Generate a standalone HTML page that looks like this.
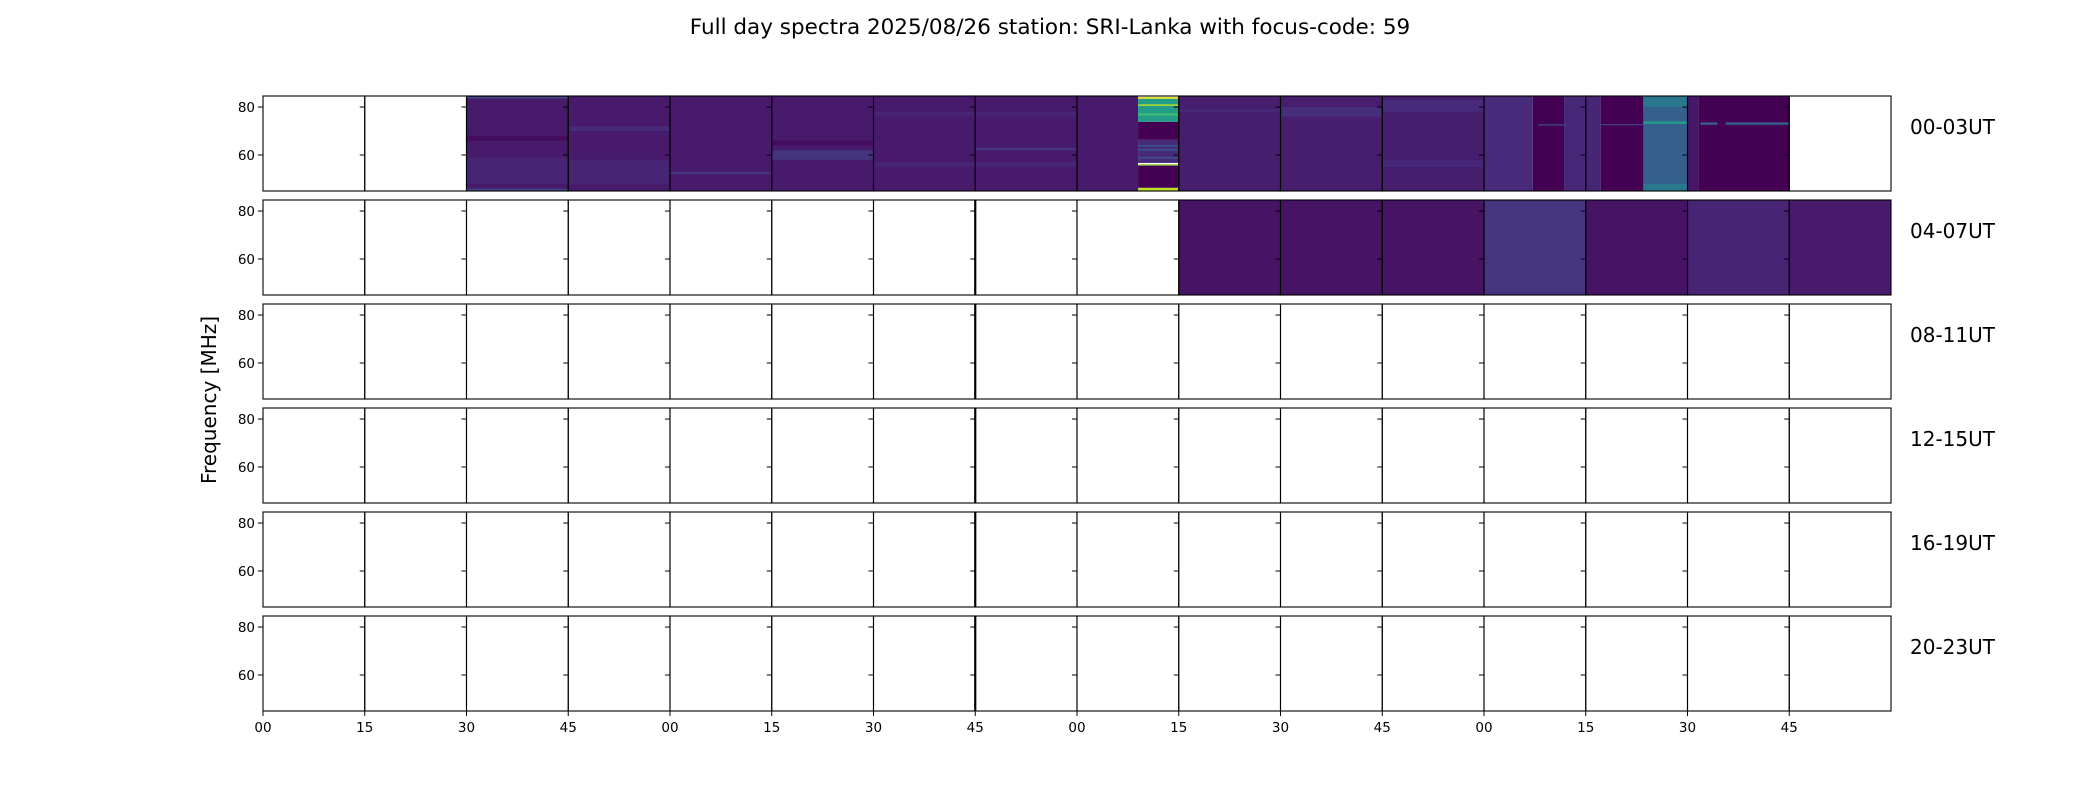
<!DOCTYPE html>
<html><head><meta charset="utf-8"><style>
html,body{margin:0;padding:0;background:#fff;}
svg{display:block;font-family:"DejaVu Sans","Liberation Sans",sans-serif;}
</style></head><body>
<svg id="chart" width="2100" height="800" viewBox="0 0 2100 800" xmlns="http://www.w3.org/2000/svg">
<text x="1050" y="34" text-anchor="middle" font-size="21.5">Full day spectra 2025/08/26 station: SRI-Lanka with focus-code: 59</text>
<text transform="translate(216,400) rotate(-90)" text-anchor="middle" font-size="20">Frequency [MHz]</text>
<g id="marks"></g>
<g id="axes"></g>
</svg>
<script>
// ---- data ----
const rowLabels = ["00-03UT","04-07UT","08-11UT","12-15UT","16-19UT","20-23UT"];
const xTickLabels = ["00","15","30","45","00","15","30","45","00","15","30","45","00","15","30","45"];
const yTicks = [80, 60];
const freqRange = [45, 84.6];
// patches: [startMinuteOfDay, endMinuteOfDay, freqLo, freqHi, viridisLevel]
const basePatches = [
  [30,129,45,84.6,0.07],[135,180,45,84.6,0.08],
  [180,187.2,45,84.6,0.12],[187.2,191.8,45,84.6,0.0],[191.8,195,45,84.6,0.11],
  [195,197.2,45,84.6,0.1],[197.2,203.5,45,84.6,0.0],[203.5,210,45,84.6,0.3],
  [210,211.6,45,84.6,0.06],[211.6,225,45,84.6,0.0],
  [375,420,45,84.6,0.05],[420,435,45,84.6,0.15],[435,450,45,84.6,0.05],
  [450,465,45,84.6,0.1],[465,480,45,84.6,0.07]
];
const brightPatches = [
  [129,135,83.4,84.2,0.95],[129,135,73.8,83.4,0.55],[129,135,80.5,81.1,0.9],
  [129,135,76.5,77.3,0.7],[129,135,66.3,73.8,0.0],[129,135,56.7,66.3,0.12],
  [129,135,63.6,64.1,0.3],[129,135,61.9,62.4,0.3],[129,135,58.6,59.1,0.3],
  [129,135,55.6,56.2,0.85],[129,135,46.3,55.6,0.0],[129,135,45,46.3,0.9],
  [30,45,83.6,84.2,0.25],[30,45,45,46,0.2],[30,45,48,59,0.1],[30,45,66,68,0.03],
  [45,60,48,58,0.1],[45,60,70,72,0.12],
  [75,90,58,62,0.15],[75,90,64,66,0.03],[60,75,52,53,0.15],
  [90,120,76,78,0.1],[90,120,55,57,0.1],[105,120,62,63,0.15],
  [135,150,78,79,0.12],[150,165,76,80,0.13],[165,180,78,83,0.12],[165,180,55,58,0.11],
  [203.5,210,80,84.6,0.4],[203.5,210,45,48,0.4],[203.5,210,73,74,0.55],
  [188,192,72.3,72.8,0.25],[197,203.5,72.4,72.9,0.2],
  [211.9,214.4,72.6,73.6,0.3],[215.6,225,72.6,73.6,0.3]
];
// ---- layout ----
const X0=263, X1=1891, rowTop=[96,200,304,408,512,616], rowH=95;
const nCols=16, colW=(X1-X0)/nCols;
function xOf(minuteInRow){return X0+minuteInRow/240*(X1-X0);}
function yOf(f,r){return rowTop[r]+(freqRange[1]-f)/(freqRange[1]-freqRange[0])*rowH;}
const vir=["#440154","#482475","#414487","#355f8d","#2a788e","#21918c","#22a884","#44bf70","#7ad151","#bddf26","#fde725"];
function hex(h){return [1,3,5].map(i=>parseInt(h.substr(i,2),16));}
function viridis(t){t=Math.max(0,Math.min(1,t))*10;const i=Math.min(9,Math.floor(t)),f=t-i;const a=hex(vir[i]),b=hex(vir[i+1]);return "rgb("+a.map((v,k)=>Math.round(v+(b[k]-v)*f)).join(",")+")";}
const NS="http://www.w3.org/2000/svg";
const marks=document.getElementById('marks'), axes=document.getElementById('axes');
function drawPatch(p){
  const r=Math.floor(p[0]/240), m0=p[0]-r*240, m1=p[1]-r*240;
  const el=document.createElementNS(NS,'rect');
  const x=xOf(m0), y=yOf(p[3],r);
  el.setAttribute('x',x);el.setAttribute('y',y);
  el.setAttribute('width',xOf(m1)-x);el.setAttribute('height',yOf(p[2],r)-y);
  el.setAttribute('fill',viridis(p[4]));
  
  
  marks.appendChild(el);
}
basePatches.forEach(drawPatch);
brightPatches.forEach(drawPatch);
for(let r=0;r<6;r++){
  for(let c=0;c<nCols;c++){
    const x=X0+c*colW;
    const fr=document.createElementNS(NS,'rect');
    fr.setAttribute('x',x);fr.setAttribute('y',rowTop[r]);fr.setAttribute('width',colW);fr.setAttribute('height',rowH);
    fr.setAttribute('fill','none');fr.setAttribute('stroke','#000');fr.setAttribute('stroke-width','1.1');
    
    
    axes.appendChild(fr);
    yTicks.forEach(v=>{
      const t=document.createElementNS(NS,'line');
      const y=yOf(v,r);
      t.setAttribute('x1',x-5);t.setAttribute('x2',x);t.setAttribute('y1',y);t.setAttribute('y2',y);
      t.setAttribute('stroke','#000');t.setAttribute('stroke-width','1');
      
      
      axes.appendChild(t);
      if(c===0){
        const lb=document.createElementNS(NS,'text');
        lb.setAttribute('x',x-8);lb.setAttribute('y',y+5);lb.setAttribute('text-anchor','end');lb.setAttribute('font-size','13.5');
        lb.textContent=v;
        
        
        axes.appendChild(lb);
      }
    });
  }
  if(r>0){
    const tl=document.createElementNS(NS,'line');
    const xx=X0+7*colW;
    tl.setAttribute('x1',xx);tl.setAttribute('x2',xx);tl.setAttribute('y1',rowTop[r]);tl.setAttribute('y2',rowTop[r]+rowH);
    tl.setAttribute('stroke','#000');tl.setAttribute('stroke-width','2.2');
    
    
    axes.appendChild(tl);
  }
  const rl=document.createElementNS(NS,'text');
  rl.setAttribute('x',1910);rl.setAttribute('y',rowTop[r]+38);rl.setAttribute('font-size','20');
  rl.textContent=rowLabels[r];
  
  
  axes.appendChild(rl);
}
xTickLabels.forEach((s,i)=>{
  const x=X0+i*colW;
  const t=document.createElementNS(NS,'line');
  t.setAttribute('x1',x);t.setAttribute('x2',x);t.setAttribute('y1',711);t.setAttribute('y2',716);
  t.setAttribute('stroke','#000');
  
  
  axes.appendChild(t);
  const lb=document.createElementNS(NS,'text');
  lb.setAttribute('x',x);lb.setAttribute('y',732);lb.setAttribute('text-anchor','middle');lb.setAttribute('font-size','13.5');
  lb.textContent=s;
  
  
  axes.appendChild(lb);
});
</script>
</body></html>
